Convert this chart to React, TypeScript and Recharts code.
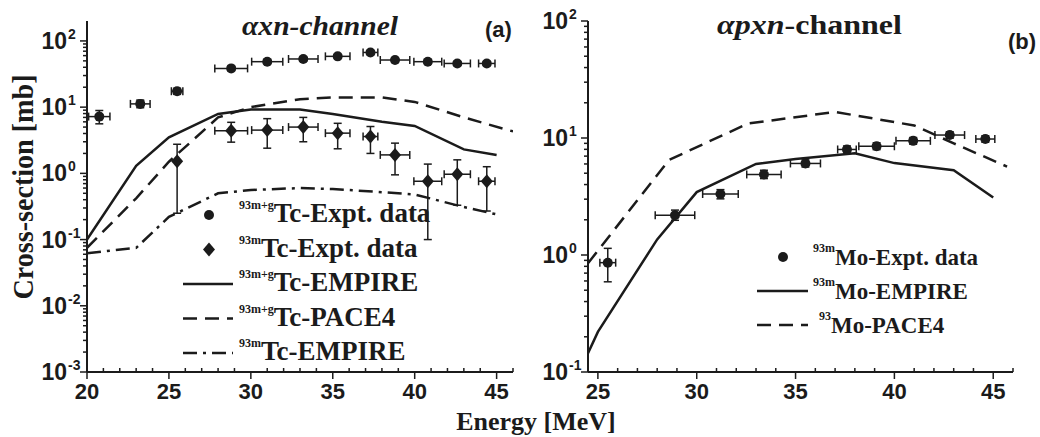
import React from 'react'
import { ComposedChart, Line, Scatter, ErrorBar, XAxis, YAxis, Legend } from 'recharts'

const INK = '#1b1b1b'
const SERIF = '"Liberation Serif", "Times New Roman", Times, serif'
const SANS = '"Liberation Sans", Arial, Helvetica, sans-serif'
const DASH = '14 8'
const DASH_DOT = '14 6 3 6'

// (a) alpha-xn channel, 93Tc
const tcExptEnergy = [20.75, 23.25, 25.5, 28.8, 31.0, 33.2, 35.3, 37.3, 38.8, 40.8, 42.6, 44.4]
const tcExptEnergyErr = [0.65, 0.6, 0.35, 1.0, 0.95, 0.9, 0.75, 0.45, 0.9, 0.85, 0.8, 0.5]
const tcMgExpt = [7.2, 11.2, 17.4, 38.5, 48.6, 53.4, 58.5, 67, 51.5, 48.6, 45.7, 45.7]
const tcMgExptLow = [5.6, 9.8, 15.6, 35.5, 45, 49.5, 54.5, 62, 47.5, 45, 42.5, 42.5]
const tcMgExptHigh = [8.9, 12.8, 19.3, 41.5, 52.5, 57.5, 62.5, 72, 55.5, 52.5, 49, 49]

const tcMEnergy = [25.5, 28.8, 31.0, 33.2, 35.3, 37.3, 38.8, 40.8, 42.6, 44.4]
const tcMEnergyErr = [0, 1.0, 0.95, 0.9, 0.75, 0.45, 0.9, 0.85, 0.8, 0.5]
const tcMExpt = [1.53, 4.4, 4.5, 5.0, 4.05, 3.6, 1.9, 0.76, 0.97, 0.76]
const tcMExptLow = [0.25, 2.96, 2.4, 3.0, 2.35, 2.0, 0.95, 0.1, 0.33, 0.27]
const tcMExptHigh = [2.75, 5.9, 6.7, 7.0, 5.7, 5.1, 2.86, 1.38, 1.6, 1.26]

const empireEnergyA = [20, 23, 25, 28, 30, 33, 35, 38, 40, 43, 45]
const tcMgEmpire = [0.1, 1.3, 3.5, 7.9, 9.2, 9.2, 7.9, 6.0, 5.2, 2.3, 1.9]
const tcMEmpire = [0.062, 0.075, 0.22, 0.5, 0.56, 0.6, 0.58, 0.52, 0.48, 0.31, 0.24]
const paceEnergyA = [20, 23, 25, 28, 30, 33, 35, 38, 40, 43, 46]
const tcMgPace = [0.075, 0.42, 1.5, 7.0, 10, 13.2, 14, 14, 12, 7.0, 4.3]

// (b) alpha-pxn channel, 93Mo
const moExptEnergy = [25.5, 28.9, 31.2, 33.4, 35.5, 37.6, 39.1, 40.95, 42.8, 44.6]
const moExptEnergyErr = [0.4, 1.0, 0.9, 0.87, 0.76, 0.47, 0.9, 0.87, 0.75, 0.48]
const moExpt = [0.86, 2.19, 3.32, 4.88, 6.06, 7.98, 8.5, 9.45, 10.6, 9.8]
const moExptLow = [0.59, 1.98, 3.02, 4.5, 5.65, 7.45, 7.95, 8.85, 9.95, 9.2]
const moExptHigh = [1.14, 2.42, 3.62, 5.3, 6.5, 8.55, 9.1, 10.1, 11.3, 10.45]
const moEmpireEnergy = [24.5, 25, 28, 30, 33, 35, 38, 40, 43, 45]
const moEmpire = [0.145, 0.22, 1.36, 3.45, 6.0, 6.6, 7.4, 6.1, 5.3, 3.1]
const moPaceEnergy = [24.5, 28.6, 32.6, 37, 41, 43, 45.7]
const moPace = [0.85, 6.5, 13.3, 16.7, 12.8, 9.0, 5.7]

// axes
const xDomainA = [20, 46]
const xDomainB = [24.5, 46]
const yDomainA = [0.001, 200]
const yDomainB = [0.1, 100]
const xMajors = [20, 25, 30, 35, 40, 45]
const yExpA = [-3, -2, -1, 0, 1, 2]
const yExpB = [-1, 0, 1, 2]

const intTicks = (lo: number, hi: number) => {
  const t: number[] = []
  for (let v = Math.ceil(lo); v <= hi; v++) t.push(v)
  return t
}
const logTicks = (exps: number[], max: number) => {
  const t: number[] = []
  exps.forEach((e) => {
    for (let k = 1; k <= 9; k++) {
      const v = k * Math.pow(10, e)
      if (v <= max * (k === 1 ? 1.001 : 0.97)) t.push(v)
    }
  })
  return t
}

const points = (e: number[], v: number[], lo: number[], hi: number[], dx: number[]) =>
  e.map((x, i) => ({ x, y: v[i], ey: [v[i] - lo[i], hi[i] - v[i]], ex: dx[i] }))
const curve = (e: number[], v: number[]) => e.map((x, i) => ({ x, y: v[i] }))

const isDecade = (v: number) => Math.abs(Math.log10(v) - Math.round(Math.log10(v))) < 1e-6

function YTick(props: any) {
  const { x, y, payload } = props
  const v = payload.value
  const major = isDecade(v)
  const e = Math.round(Math.log10(v))
  return (
    <g>
      <line x1={x - (major ? 7 : 4)} x2={x} y1={y} y2={y} stroke={INK} strokeWidth={1.5} />
      {major && (
        <text x={x - 20} y={y + 8} fontFamily={SANS} fontWeight="bold" fontSize={23} fill={INK} textAnchor="end">
          10
        </text>
      )}
      {major && (
        <text x={x - 19} y={y - 2} fontFamily={SANS} fontWeight="bold" fontSize={14} fill={INK}>
          {e}
        </text>
      )}
    </g>
  )
}

function XTick(props: any) {
  const { x, y, payload } = props
  const v = payload.value
  const major = xMajors.includes(v)
  return (
    <g>
      <line x1={x} x2={x} y1={major ? y + 7 : y - 4} y2={y} stroke={INK} strokeWidth={1.5} />
      {major && (
        <text x={x} y={y + 27} fontFamily={SANS} fontWeight="bold" fontSize={22} fill={INK} textAnchor="middle">
          {v}
        </text>
      )}
    </g>
  )
}

const CircleMark = (p: any) => <circle cx={p.cx} cy={p.cy} r={5} fill={INK} />
const DiamondMark = (p: any) => (
  <polygon points={`${p.cx},${p.cy - 7} ${p.cx + 6},${p.cy} ${p.cx},${p.cy + 7} ${p.cx - 6},${p.cy}`} fill={INK} />
)

type LegendItem = { mark: 'circle' | 'diamond' | 'line'; dash?: string; sup: string; label: string; indent?: number }

const legendA: LegendItem[] = [
  { mark: 'circle', sup: '93m+g', label: 'Tc-Expt. data' },
  { mark: 'diamond', sup: '93m', label: 'Tc-Expt. data' },
  { mark: 'line', sup: '93m+g', label: 'Tc-EMPIRE' },
  { mark: 'line', dash: DASH, sup: '93m+g', label: 'Tc-PACE4' },
  { mark: 'line', dash: DASH_DOT, sup: '93m', label: 'Tc-EMPIRE' },
]
const legendB: LegendItem[] = [
  { mark: 'circle', sup: '93m', label: 'Mo-Expt. data' },
  { mark: 'line', sup: '93m', label: 'Mo-EMPIRE' },
  { mark: 'line', dash: DASH, sup: '93', label: 'Mo-PACE4', indent: 6 },
]

function LegendBox(props: {
  items: LegendItem[]
  w: number
  h: number
  markX: number
  lineX1: number
  lineX2: number
  textX: number
  base0: number
  gap: number
  markUp: number
  size: number
  supSize: number
}) {
  const { items, w, h, markX, lineX1, lineX2, textX, base0, gap, markUp, size, supSize } = props
  return (
    <svg width={w} height={h} style={{ overflow: 'visible' }}>
      {items.map((it, i) => {
        const b = base0 + i * gap
        const my = b - markUp
        return (
          <g key={i}>
            {it.mark === 'circle' && <CircleMark cx={markX} cy={my} />}
            {it.mark === 'diamond' && <DiamondMark cx={markX} cy={my} />}
            {it.mark === 'line' && (
              <line x1={lineX1} x2={lineX2} y1={my} y2={my} stroke={INK} strokeWidth={2.5} strokeDasharray={it.dash} />
            )}
            <text x={textX + (it.indent || 0)} y={b} fontFamily={SERIF} fontWeight="bold" fill={INK}>
              <tspan fontSize={supSize} dy={-13}>
                {it.sup}
              </tspan>
              <tspan fontSize={size} dy={13}>
                {it.label}
              </tspan>
            </text>
          </g>
        )
      })}
    </svg>
  )
}

const axisLine = { stroke: INK, strokeWidth: 2 }

export default function App() {
  const tcMg = points(tcExptEnergy, tcMgExpt, tcMgExptLow, tcMgExptHigh, tcExptEnergyErr)
  const tcM = points(tcMEnergy, tcMExpt, tcMExptLow, tcMExptHigh, tcMEnergyErr)
  const mo = points(moExptEnergy, moExpt, moExptLow, moExptHigh, moExptEnergyErr)

  return (
    <div style={{ position: 'absolute', left: 0, top: 0, width: 1040, height: 437, background: '#fff' }}>
      <div style={{ position: 'absolute', left: 0, top: 0 }}>
        <ComposedChart width={520} height={437} margin={{ top: 21, right: 7, bottom: 0, left: 0 }}>
          <XAxis
            type="number"
            dataKey="x"
            domain={xDomainA}
            ticks={intTicks(20, 46)}
            interval={0}
            tickSize={0}
            tickMargin={0}
            tick={XTick}
            tickLine={false}
            axisLine={axisLine}
            height={65}
            allowDataOverflow
          />
          <YAxis
            type="number"
            dataKey="y"
            scale="log"
            domain={yDomainA}
            ticks={logTicks(yExpA, yDomainA[1])}
            interval={0}
            tickSize={0}
            tickMargin={0}
            tick={YTick}
            tickLine={false}
            axisLine={axisLine}
            width={87}
            allowDataOverflow
          />
          <Line data={curve(empireEnergyA, tcMgEmpire)} dataKey="y" type="linear" stroke={INK} strokeWidth={2.5} dot={false} activeDot={false} isAnimationActive={false} />
          <Line data={curve(paceEnergyA, tcMgPace)} dataKey="y" type="linear" stroke={INK} strokeWidth={2.5} strokeDasharray={DASH} dot={false} activeDot={false} isAnimationActive={false} />
          <Line data={curve(empireEnergyA, tcMEmpire)} dataKey="y" type="linear" stroke={INK} strokeWidth={2.5} strokeDasharray={DASH_DOT} dot={false} activeDot={false} isAnimationActive={false} />
          <Scatter data={tcMg} dataKey="y" shape={CircleMark} isAnimationActive={false}>
            <ErrorBar dataKey="ey" direction="y" width={4} stroke={INK} strokeWidth={1.5} />
            <ErrorBar dataKey="ex" direction="x" width={4} stroke={INK} strokeWidth={1.5} />
          </Scatter>
          <Scatter data={tcM} dataKey="y" shape={DiamondMark} isAnimationActive={false}>
            <ErrorBar dataKey="ey" direction="y" width={4} stroke={INK} strokeWidth={1.5} />
            <ErrorBar dataKey="ex" direction="x" width={4} stroke={INK} strokeWidth={1.5} />
          </Scatter>
          <Legend
            layout="horizontal"
            verticalAlign="middle"
            wrapperStyle={{ left: 170, top: 190, width: 290, height: 190, right: 'auto', bottom: 'auto' }}
            content={() => (
              <LegendBox items={legendA} w={290} h={190} markX={39} lineX1={13} lineX2={63} textX={69} base0={32} gap={34.5} markUp={7} size={27} supSize={12} />
            )}
          />
        </ComposedChart>
      </div>

      <div style={{ position: 'absolute', left: 520, top: 0 }}>
        <ComposedChart width={520} height={437} margin={{ top: 21, right: 27, bottom: 0, left: 0 }}>
          <XAxis
            type="number"
            dataKey="x"
            domain={xDomainB}
            ticks={intTicks(25, 46)}
            interval={0}
            tickSize={0}
            tickMargin={0}
            tick={XTick}
            tickLine={false}
            axisLine={axisLine}
            height={65}
            allowDataOverflow
          />
          <YAxis
            type="number"
            dataKey="y"
            scale="log"
            domain={yDomainB}
            ticks={logTicks(yExpB, yDomainB[1])}
            interval={0}
            tickSize={0}
            tickMargin={0}
            tick={YTick}
            tickLine={false}
            axisLine={axisLine}
            width={68}
            allowDataOverflow
          />
          <Line data={curve(moEmpireEnergy, moEmpire)} dataKey="y" type="linear" stroke={INK} strokeWidth={2.5} dot={false} activeDot={false} isAnimationActive={false} />
          <Line data={curve(moPaceEnergy, moPace)} dataKey="y" type="linear" stroke={INK} strokeWidth={2.5} strokeDasharray={DASH} dot={false} activeDot={false} isAnimationActive={false} />
          <Scatter data={mo} dataKey="y" shape={CircleMark} isAnimationActive={false}>
            <ErrorBar dataKey="ey" direction="y" width={4} stroke={INK} strokeWidth={1.5} />
            <ErrorBar dataKey="ex" direction="x" width={4} stroke={INK} strokeWidth={1.5} />
          </Scatter>
          <Legend
            layout="horizontal"
            verticalAlign="middle"
            wrapperStyle={{ left: 230, top: 235, width: 280, height: 110, right: 'auto', bottom: 'auto' }}
            content={() => (
              <LegendBox items={legendB} w={280} h={110} markX={33} lineX1={7} lineX2={58} textX={63} base0={30} gap={34} markUp={8} size={23} supSize={12} />
            )}
          />
        </ComposedChart>
      </div>

      <svg width={1040} height={437} style={{ position: 'absolute', left: 0, top: 0, pointerEvents: 'none' }}>
        <text x={320} y={35} fontFamily={SERIF} fontWeight="bold" fontStyle="italic" fontSize={28} textAnchor="middle" fill={INK} textLength={156} lengthAdjust="spacingAndGlyphs">
          αxn-channel
        </text>
        <text x={485} y={37} fontFamily={SANS} fontWeight="bold" fontSize={22} fill={INK}>
          (a)
        </text>
        <text x={717} y={34} fontFamily={SERIF} fontWeight="bold" fontSize={27} fill={INK} textLength={185} lengthAdjust="spacingAndGlyphs">
          <tspan fontStyle="italic">αpxn</tspan>
          <tspan>-channel</tspan>
        </text>
        <text x={1008} y={49} fontFamily={SANS} fontWeight="bold" fontSize={22} fill={INK}>
          (b)
        </text>
        <text x={33} y={187} transform="rotate(-90 33 187)" fontFamily={SERIF} fontWeight="bold" fontSize={29} textAnchor="middle" fill={INK} textLength={225} lengthAdjust="spacingAndGlyphs">
          Cross-section [mb]
        </text>
        <text x={536} y={430} fontFamily={SERIF} fontWeight="bold" fontSize={26} textAnchor="middle" fill={INK}>
          Energy [MeV]
        </text>
      </svg>
    </div>
  )
}
